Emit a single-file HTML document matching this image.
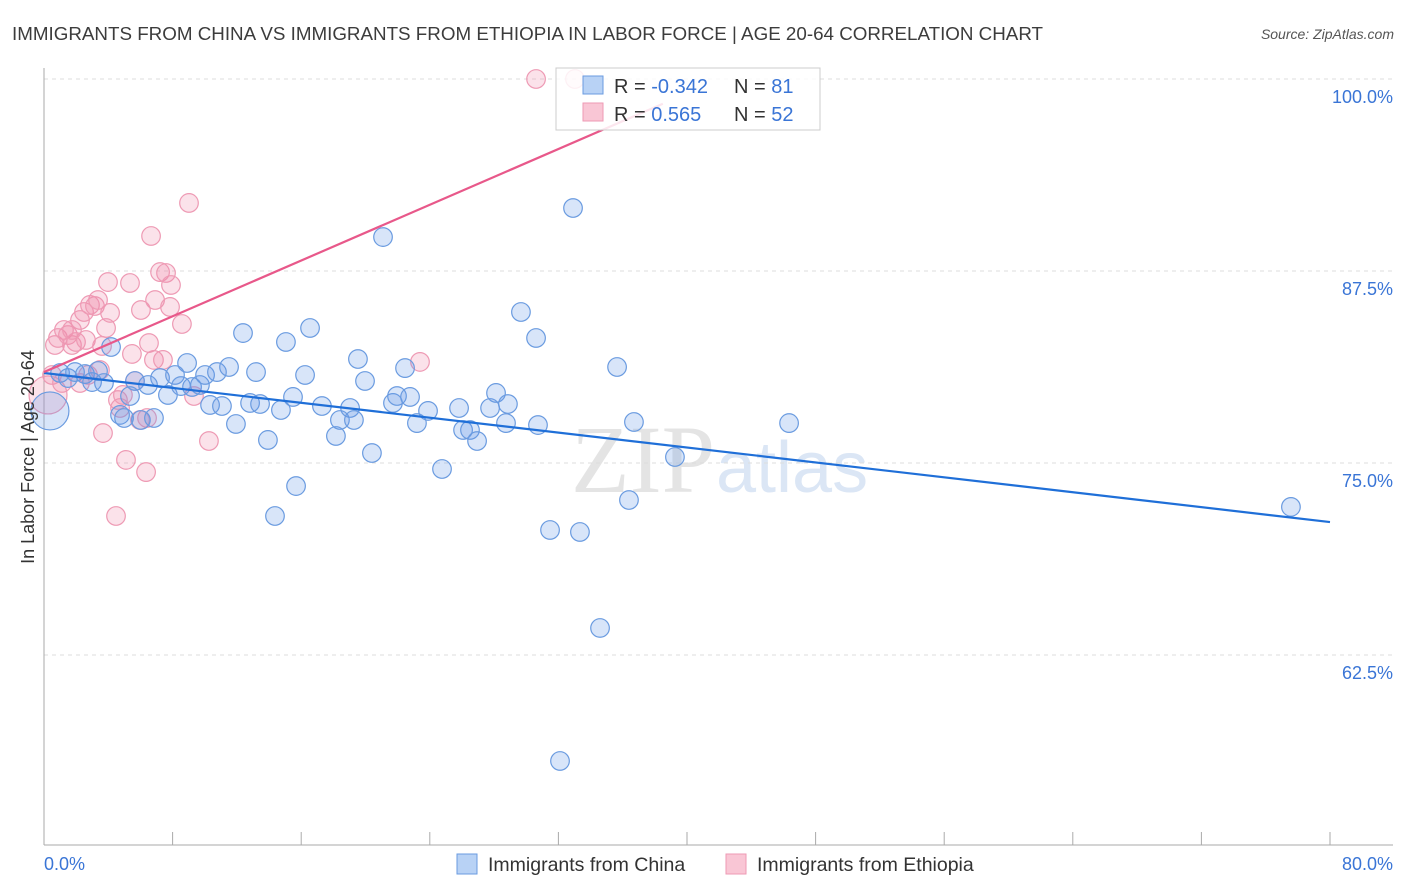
<!DOCTYPE html>
<html><head><meta charset="utf-8"><style>
body{margin:0;background:#fff;font-family:"Liberation Sans",sans-serif;}
svg{display:block}
</style></head><body>
<svg id="chart" width="1406" height="892">
<text x="12" y="40" font-size="18.8" fill="#3c3c3c">IMMIGRANTS FROM CHINA VS IMMIGRANTS FROM ETHIOPIA IN LABOR FORCE | AGE 20-64 CORRELATION CHART</text>
<text x="1394" y="39" font-size="14" font-style="italic" fill="#555" text-anchor="end">Source: ZipAtlas.com</text>
<text x="715" y="492" font-size="96" font-family="Liberation Serif" fill="#e4e4e4" text-anchor="end">ZIP</text>
<text x="716" y="492" font-size="72" fill="#dbe6f5">atlas</text>
<g id="grid"></g><g id="axes"></g><g id="pts"></g><g id="lines"></g>
<text transform="translate(34,457) rotate(-90)" font-size="18" fill="#333" text-anchor="middle">In Labor Force | Age 20-64</text>
<text x="44" y="870" font-size="18" fill="#3a75d6">0.0%</text>
<text x="1393" y="870" font-size="18" fill="#3a75d6" text-anchor="end">80.0%</text>
<g>
<rect x="556" y="68" width="264" height="62" fill="rgba(255,255,255,0.85)" stroke="#ccc"/>
<rect x="583" y="76" width="20" height="18" fill="#b8d2f5" stroke="#6a9be0"/>
<rect x="583" y="103" width="20" height="18" fill="#f9c6d5" stroke="#ee9ab4"/>
<text x="614" y="93" font-size="20" fill="#333">R = <tspan fill="#3a75d6">-0.342</tspan></text>
<text x="734" y="93" font-size="20" fill="#333">N = <tspan fill="#3a75d6"> 81</tspan></text>
<text x="614" y="121" font-size="20" fill="#333">R = <tspan fill="#3a75d6"> 0.565</tspan></text>
<text x="734" y="121" font-size="20" fill="#333">N = <tspan fill="#3a75d6">52</tspan></text>
</g>
<g>
<rect x="457" y="854" width="20" height="20" fill="#b8d2f5" stroke="#6a9be0"/>
<text x="488" y="871" font-size="19.5" fill="#333">Immigrants from China</text></g>
<g>
<rect x="726" y="854" width="20" height="20" fill="#f9c6d5" stroke="#ee9ab4"/>
<text x="757" y="871" font-size="19.5" fill="#333">Immigrants from Ethiopia</text></g>
</svg>
<script>
const yTicks=[100,87.5,75,62.5];
const yTickLabels=["100.0%","87.5%","75.0%","62.5%"];
const chinaX=[0.37,1.0,1.49,1.93,2.55,2.99,3.36,3.73,4.17,4.73,4.98,5.35,5.66,6.03,6.47,6.84,7.22,7.71,8.15,8.52,8.90,9.21,9.70,10.02,10.33,10.76,11.07,11.51,11.94,12.38,12.82,13.19,13.44,13.93,14.37,14.74,15.05,15.49,15.68,16.24,16.55,17.29,18.16,18.41,19.04,19.28,19.53,19.97,20.40,21.09,21.71,21.96,22.46,22.77,23.20,23.89,24.76,25.82,26.07,26.50,26.94,27.75,28.12,28.74,28.86,29.67,30.61,30.73,31.48,32.91,33.34,34.59,32.10,35.65,36.39,36.70,39.25,46.35,77.57];
const chinaY=[78.39,80.86,80.53,80.92,80.79,80.27,80.99,80.21,82.55,78.13,77.93,79.36,80.34,77.80,80.08,77.93,80.53,79.43,80.73,80.01,81.51,79.95,80.08,80.73,78.78,80.92,78.71,81.25,77.54,83.46,78.91,80.92,78.84,76.50,71.55,78.45,82.88,79.30,73.50,80.73,83.79,78.71,76.76,77.80,78.58,77.80,81.77,80.34,75.65,89.71,78.91,79.36,81.18,79.30,77.60,78.39,74.61,78.58,77.15,77.15,76.43,78.58,79.56,77.60,78.84,84.83,83.14,77.47,70.64,91.60,70.51,64.26,55.60,81.25,72.59,77.67,75.39,77.60,72.14];
const ethX=[0.25,0.50,0.68,0.87,1.24,1.49,1.74,1.99,2.24,2.49,2.61,2.86,3.17,3.36,3.61,3.86,3.98,4.11,4.60,4.48,3.67,5.10,5.35,5.47,5.66,6.03,6.41,6.53,6.35,6.66,6.84,6.91,7.22,7.40,7.59,7.84,7.90,8.58,9.02,9.33,10.26,23.39,30.61,33.03,4.73,2.24,2.74,1.74,1.12,5.97,4.91,3.48];
const ethY=[79.43,80.73,82.68,83.14,83.66,83.33,82.68,82.88,84.31,84.83,83.01,85.29,85.22,85.61,82.62,83.79,86.78,84.77,79.10,71.55,76.95,75.20,86.72,82.10,80.34,84.96,77.93,82.81,74.41,89.78,81.71,85.61,87.43,81.71,87.37,85.16,86.59,84.05,91.93,79.36,76.43,81.58,100,100,78.58,80.21,80.73,83.66,80.21,77.80,79.43,81.05];
const chinaTrend=[80.86,-0.1213];
const ethTrend=[80.92,0.4538];
const NS="http://www.w3.org/2000/svg";
const X=v=>44+v/80*1286, Y=v=>79+(100-v)/12.5*192;
function mk(p,t,a){const e=document.createElementNS(NS,t);for(const k in a)e.setAttribute(k,a[k]);document.getElementById(p).appendChild(e);return e;}
yTicks.forEach((t,i)=>{
 let l=mk('grid','line',{x1:44,x2:1393,y1:Y(t),y2:Y(t),stroke:'#ddd','stroke-dasharray':'4,4'});
 
 
 let tx=mk('grid','text',{x:1393,y:Y(t)+24,'font-size':18,fill:'#3a75d6','text-anchor':'end'});
 tx.textContent=yTickLabels[i];
 
 
});
let ax=mk('axes','line',{x1:44,x2:44,y1:68,y2:845,stroke:'#aaa'});


let bx=mk('axes','line',{x1:44,x2:1393,y1:845,y2:845,stroke:'#aaa'});


for(let i=0;i<=10;i++){let t=mk('axes','line',{x1:X(i*8),x2:X(i*8),y1:832,y2:845,stroke:'#aaa'});
 
 }
function pts(xs,ys,fill,stroke,name){xs.forEach((x,i)=>{
 let c=mk('pts','circle',{cx:X(x),cy:Y(ys[i]),r:i===0?19:9.3,fill:fill,stroke:stroke,'stroke-width':1.2});
 
 });}
pts(ethX,ethY,'rgba(240,140,170,0.25)','#ee9ab4','ethiopia-point');
pts(chinaX,chinaY,'rgba(100,150,230,0.25)','#6a9be0','china-point');
let bl=mk('lines','line',{x1:X(0),y1:Y(chinaTrend[0]),x2:X(80),y2:Y(chinaTrend[0]+80*chinaTrend[1]),stroke:'#1f6fd8','stroke-width':2.2});


let pl=mk('lines','line',{x1:X(0),y1:Y(ethTrend[0]),x2:X(38.5),y2:Y(ethTrend[0]+38.5*ethTrend[1]),stroke:'#e8588a','stroke-width':2.2});


</script>
</body></html>
